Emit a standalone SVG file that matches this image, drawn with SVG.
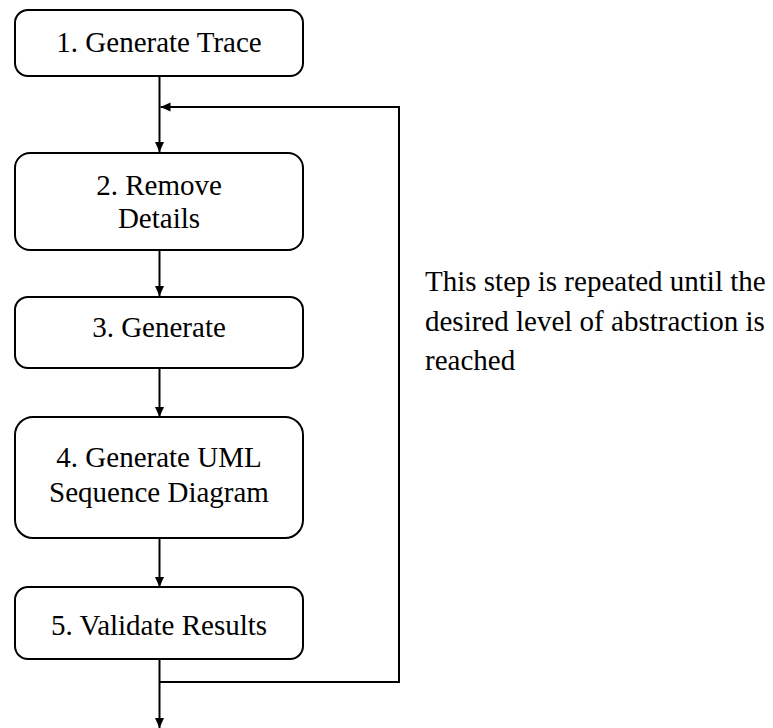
<svg xmlns="http://www.w3.org/2000/svg" width="773" height="728" viewBox="0 0 773 728">
  <style>
    .box { fill: #ffffff; stroke: #000000; stroke-width: 2; }
    .label { font-family: 'Liberation Serif', 'LiberationSerif', Tinos, 'Times New Roman', Times, 'DejaVu Serif', serif; font-size: 29px; fill: #000000; text-anchor: middle; }
    .note { font-family: 'Liberation Serif', 'LiberationSerif', Tinos, 'Times New Roman', Times, 'DejaVu Serif', serif; font-size: 29px; fill: #000000; }
    .wire { fill: none; stroke: #000000; stroke-width: 2; }
  </style>
  <defs>
    <marker id="arrow" markerUnits="userSpaceOnUse" markerWidth="12" markerHeight="12" viewBox="0 0 12 12" refX="11" refY="6" orient="auto">
      <path d="M1,1.5 L11,6 L1,10.5 Z" fill="#000000"/>
    </marker>
  </defs>
  <rect width="773" height="728" fill="#ffffff"/>

  <g id="connectors">
    <line class="wire" x1="159.5" y1="76" x2="159.5" y2="152" marker-end="url(#arrow)"/>
    <line class="wire" x1="159.5" y1="250" x2="159.5" y2="296" marker-end="url(#arrow)"/>
    <line class="wire" x1="159.5" y1="368" x2="159.5" y2="417" marker-end="url(#arrow)"/>
    <line class="wire" x1="159.5" y1="538" x2="159.5" y2="587" marker-end="url(#arrow)"/>
    <line class="wire" x1="159.5" y1="659" x2="159.5" y2="728" marker-end="url(#arrow)"/>
    <path class="wire" d="M159.5,682 H399 V107 H160.5" marker-end="url(#arrow)"/>
  </g>

  <g id="step1">
    <rect class="box" x="15" y="10" width="288" height="66" rx="13"/>
    <text class="label" x="159" y="52" font-family="Liberation Serif, DejaVu Serif, serif">1. Generate Trace</text>
  </g>
  <g id="step2">
    <rect class="box" x="15" y="153" width="288" height="97" rx="15"/>
    <text class="label" x="159" y="195">2. Remove</text>
    <text class="label" x="159" y="228">Details</text>
  </g>
  <g id="step3">
    <rect class="box" x="15" y="297" width="288" height="71" rx="13"/>
    <text class="label" x="159" y="337">3. Generate</text>
  </g>
  <g id="step4">
    <rect class="box" x="15" y="417" width="288" height="121" rx="18"/>
    <text class="label" x="159" y="467">4. Generate UML</text>
    <text class="label" x="159" y="502">Sequence Diagram</text>
  </g>
  <g id="step5">
    <rect class="box" x="15" y="587" width="288" height="72" rx="13"/>
    <text class="label" x="159" y="635">5. Validate Results</text>
  </g>

  <g id="note">
    <text class="note" x="425" y="291">This step is repeated until the</text>
    <text class="note" x="425" y="331">desired level of abstraction is</text>
    <text class="note" x="425" y="370">reached</text>
  </g>
</svg>
